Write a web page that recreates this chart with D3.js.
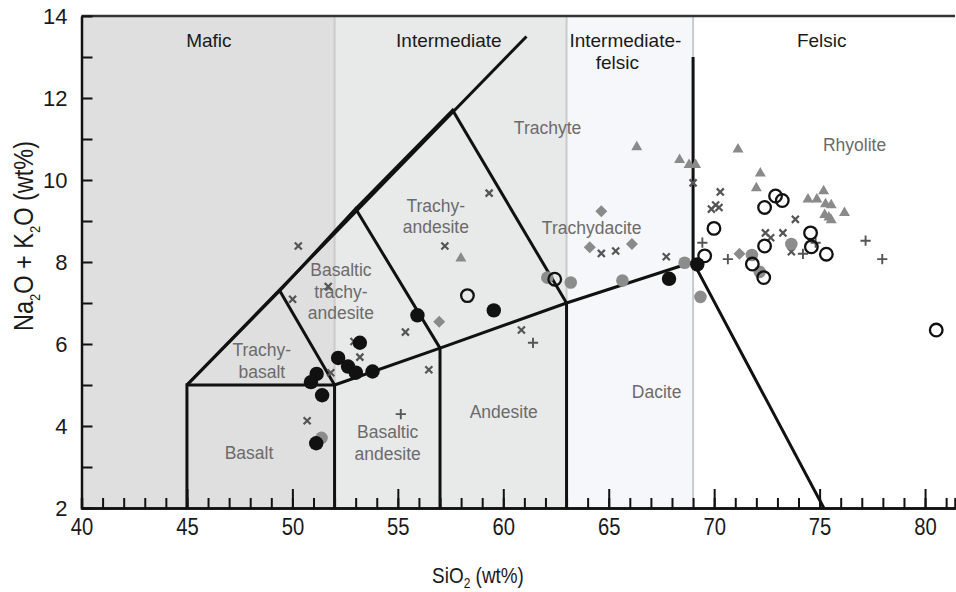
<!DOCTYPE html>
<html>
<head>
<meta charset="utf-8">
<script src="https://cdn.jsdelivr.net/npm/d3@7"></script>
<style>
  html, body { margin: 0; padding: 0; background: #fff; }
  svg { display: block; }
  text { font-family: "Liberation Sans", Arial, sans-serif; }
</style>
</head>
<body>
<svg id="chart" width="956" height="592"></svg>
<script>
// ---------------- DATA ----------------
const xMajorTicks = [40, 45, 50, 55, 60, 65, 70, 75, 80];
const yLabelTicks = [2, 4, 6, 8, 10, 12, 14];

// compositional bands (SiO2 ranges)
const bandNames  = ["Mafic", "Intermediate", "Intermediate-felsic", "Felsic"];
const bandFrom   = [40, 52, 63, 69];
const bandTo     = [52, 63, 69, 81.42];
const bandLabelX = [46.04, 57.42, 65.6, 75.1];

// TAS classification boundaries (SiO2, Na2O+K2O)
const tasBoundaries = [
  [[45, 2], [45, 5], [52, 5], [52, 2]],
  [[52, 5], [57, 5.9], [63, 7], [69, 8]],
  [[57, 5.9], [57, 2]],
  [[63, 7], [63, 2]],
  [[45, 5], [61.1, 13.5]],
  [[45, 5], [49.4, 7.3], [52, 5]],
  [[49.4, 7.3], [53, 9.3], [57, 5.9]],
  [[53, 9.3], [57.6, 11.7], [63, 7]],
  [[69, 13], [69, 8], [75.2, 2]]
];

// field names (lines) and anchor positions in data units
const fieldNames = [
  { lines: ["Trachyte"], x: 62.1, y: 11.27 },
  { lines: ["Rhyolite"], x: 76.66, y: 10.85 },
  { lines: ["Trachy-", "andesite"], x: 56.8, y: 9.37 },
  { lines: ["Trachydacite"], x: 64.19, y: 8.83 },
  { lines: ["Basaltic", "trachy-", "andesite"], x: 52.3, y: 7.8 },
  { lines: ["Trachy-", "basalt"], x: 48.55, y: 5.85 },
  { lines: ["Basalt"], x: 47.94, y: 3.34 },
  { lines: ["Basaltic", "andesite"], x: 54.52, y: 3.85 },
  { lines: ["Andesite"], x: 60.02, y: 4.34 },
  { lines: ["Dacite"], x: 67.27, y: 4.83 }
];

// sample series [SiO2, Na2O+K2O]
const blackCircles = [
  [53.20, 6.03], [52.17, 5.66], [52.64, 5.45], [53.01, 5.30], [53.80, 5.33],
  [51.15, 5.27], [50.88, 5.07], [51.41, 4.75], [51.13, 3.58], [55.93, 6.70],
  [59.55, 6.82], [67.86, 7.59], [69.20, 7.94]
];
const openCircles = [
  [62.44, 7.58], [58.30, 7.18], [69.99, 8.82], [69.55, 8.15], [72.39, 9.33],
  [72.91, 9.61], [73.23, 9.50], [72.39, 8.39], [71.81, 7.95], [72.35, 7.62],
  [74.57, 8.71], [74.61, 8.37], [75.32, 8.19], [80.53, 6.34]
];
const greyCircles = [
  [51.38, 3.71], [62.09, 7.62], [63.20, 7.50], [65.65, 7.55], [68.60, 7.98],
  [69.35, 7.15], [71.79, 8.17], [73.66, 8.44], [72.16, 7.76]
];
const greyDiamonds = [
  [64.65, 9.24], [64.10, 8.36], [66.10, 8.44], [56.96, 6.54], [71.20, 8.20]
];
const greyTriangles = [
  [57.99, 8.09], [68.36, 10.49], [68.81, 10.37], [69.12, 10.37], [66.33, 10.80],
  [71.13, 10.75], [72.19, 10.16], [72.00, 9.80], [74.45, 9.53], [74.87, 9.53],
  [75.19, 9.73], [75.28, 9.41], [75.55, 9.39], [75.24, 9.15], [75.44, 9.09],
  [75.55, 9.02], [76.18, 9.20]
];
const crossMarks = [
  [50.28, 8.39], [50.01, 7.09], [51.70, 7.40], [57.23, 8.39], [55.36, 6.29],
  [52.92, 6.06], [53.20, 5.68], [51.82, 5.30], [50.70, 4.13], [59.33, 9.68],
  [60.86, 6.34], [64.65, 8.21], [65.33, 8.27], [67.73, 8.13], [69.00, 9.93],
  [56.47, 5.37], [70.29, 9.71], [70.07, 9.39], [69.87, 9.29], [70.23, 9.33],
  [73.85, 9.04], [72.43, 8.71], [72.68, 8.59], [73.26, 8.71], [73.66, 8.25]
];
const plusMarks = [
  [55.14, 4.29], [61.41, 6.03], [69.44, 8.47], [70.65, 8.07], [74.21, 8.20],
  [74.81, 8.47], [77.18, 8.52], [77.97, 8.07]
];

// ---------------- CHART ----------------
const svg = d3.select("#chart");
const x = d3.scaleLinear().domain([40, 81.42]).range([81.5, 955]);
const y = d3.scaleLinear().domain([2, 14]).range([508, 16]);

// background bands
const bandFill = ["#dfdfdf", "#e8e9e9", "#f6f7fa", "#ffffff"];
svg.append("g").selectAll("rect").data(bandNames).join("rect")
  .attr("x", (d, i) => x(bandFrom[i]))
  .attr("width", (d, i) => x(bandTo[i]) - x(bandFrom[i]))
  .attr("y", y(14)).attr("height", y(2) - y(14))
  .attr("fill", (d, i) => bandFill[i]);

// band dividers
svg.append("g").selectAll("line").data(bandFrom.slice(1)).join("line")
  .attr("x1", d => x(d)).attr("x2", d => x(d))
  .attr("y1", y(14)).attr("y2", y(2))
  .attr("stroke", "#cbcbcb").attr("stroke-width", 2);

// band labels
const bandLabels = svg.append("g").attr("font-size", 19).attr("fill", "#1a1a1a").attr("text-anchor", "middle");
bandNames.forEach((name, i) => {
  if (name === "Intermediate-felsic") {
    bandLabels.append("text").attr("x", x(bandLabelX[i]) + 4).attr("y", 47).text("Intermediate-");
    bandLabels.append("text").attr("x", x(bandLabelX[i]) - 4).attr("y", 69).text("felsic");
  } else {
    bandLabels.append("text").attr("x", x(bandLabelX[i])).attr("y", 47).text(name);
  }
});

// top border
svg.append("line")
  .attr("x1", x(40)).attr("x2", x(81.42)).attr("y1", y(14)).attr("y2", y(14))
  .attr("stroke", "#333").attr("stroke-width", 2.5);

// TAS boundaries
const line = d3.line().x(d => x(d[0])).y(d => y(d[1]));
svg.append("g").selectAll("path").data(tasBoundaries).join("path")
  .attr("d", line).attr("fill", "none")
  .attr("stroke", "#111").attr("stroke-width", 3).attr("stroke-linejoin", "miter");

// field names
const fieldG = svg.append("g").attr("font-size", 17.5).attr("fill", "#6b6b6b").attr("text-anchor", "middle");
fieldNames.forEach(f => {
  const t = fieldG.append("text").attr("x", x(f.x)).attr("y", y(f.y) + 6);
  f.lines.forEach((ln, k) => {
    t.append("tspan").attr("x", x(f.x)).attr("dy", k === 0 ? 0 : 21.5).text(ln);
  });
});

// axes
const xAxisMinor = d3.axisBottom(x).tickValues(d3.range(40, 82, 1)).tickSize(-10).tickFormat("");
const xAxis = d3.axisBottom(x).tickValues(xMajorTicks).tickSizeInner(-19).tickSizeOuter(0).tickPadding(11);
const gxm = svg.append("g").attr("transform", `translate(0,${y(2)})`).call(xAxisMinor);
const gx = svg.append("g").attr("transform", `translate(0,${y(2)})`).call(xAxis);
[gxm, gx].forEach(g => {
  g.selectAll(".tick line").attr("stroke", "#111").attr("stroke-width", 2);
  g.select(".domain").attr("stroke", "#111").attr("stroke-width", 2.5);
});
gx.selectAll(".tick text").attr("font-size", 23).attr("fill", "#1a1a1a")
  .attr("transform", "scale(0.88,1)");

const yAxis = d3.axisLeft(y).tickValues(d3.range(2, 15, 1)).tickSizeInner(-11).tickSizeOuter(0).tickPadding(14)
  .tickFormat(d => yLabelTicks.includes(d) ? d : "");
const gy = svg.append("g").attr("transform", `translate(${x(40)},0)`).call(yAxis);
gy.selectAll(".tick line").attr("stroke", "#111").attr("stroke-width", 2);
gy.select(".domain").attr("stroke", "#111").attr("stroke-width", 2.5);
gy.selectAll(".tick text").attr("font-size", 22).attr("fill", "#1a1a1a");

// axis titles
const xt = svg.append("text").attr("transform", "translate(478,583) scale(0.86,1)").attr("text-anchor", "middle")
  .attr("font-size", 22).attr("fill", "#1a1a1a");
xt.append("tspan").text("SiO");
xt.append("tspan").attr("font-size", 14).attr("dy", 5).text("2");
xt.append("tspan").attr("dy", -5).text(" (wt%)");

const yt = svg.append("text").attr("transform", "translate(33,236) rotate(-90) scale(0.87,1)").attr("text-anchor", "middle")
  .attr("font-size", 27).attr("fill", "#1a1a1a");
yt.append("tspan").text("Na");
yt.append("tspan").attr("font-size", 15).attr("dy", 7).text("2");
yt.append("tspan").attr("dy", -7).text("O + K");
yt.append("tspan").attr("font-size", 15).attr("dy", 7).text("2");
yt.append("tspan").attr("dy", -7).text("O (wt%)");

// points
const pts = svg.append("g");
const pos = d => `translate(${x(d[0])},${y(d[1])})`;

pts.append("g").selectAll("path").data(crossMarks).join("path")
  .attr("transform", pos).attr("d", d3.symbol(d3.symbolTimes, 34))
  .attr("fill", "none").attr("stroke", "#555").attr("stroke-width", 2.2);

pts.append("g").selectAll("path").data(plusMarks).join("path")
  .attr("transform", pos).attr("d", d3.symbol(d3.symbolPlus, 36))
  .attr("fill", "none").attr("stroke", "#555").attr("stroke-width", 1.9);

pts.append("g").selectAll("path").data(greyTriangles).join("path")
  .attr("transform", pos).attr("d", d3.symbol(d3.symbolTriangle, 52))
  .attr("fill", "#8a8a8a");

pts.append("g").selectAll("path").data(greyDiamonds).join("path")
  .attr("transform", d => pos(d) + " rotate(45)").attr("d", d3.symbol(d3.symbolSquare, 72))
  .attr("fill", "#8a8a8a");

pts.append("g").selectAll("circle").data(greyCircles).join("circle")
  .attr("cx", d => x(d[0])).attr("cy", d => y(d[1])).attr("r", 6.3)
  .attr("fill", "#8c8c8c");

pts.append("g").selectAll("circle").data(blackCircles).join("circle")
  .attr("cx", d => x(d[0])).attr("cy", d => y(d[1])).attr("r", 7.2)
  .attr("fill", "#111");

pts.append("g").selectAll("circle").data(openCircles).join("circle")
  .attr("cx", d => x(d[0])).attr("cy", d => y(d[1])).attr("r", 6.3)
  .attr("fill", "none").attr("stroke", "#111").attr("stroke-width", 2.3);
</script>
</body>
</html>
